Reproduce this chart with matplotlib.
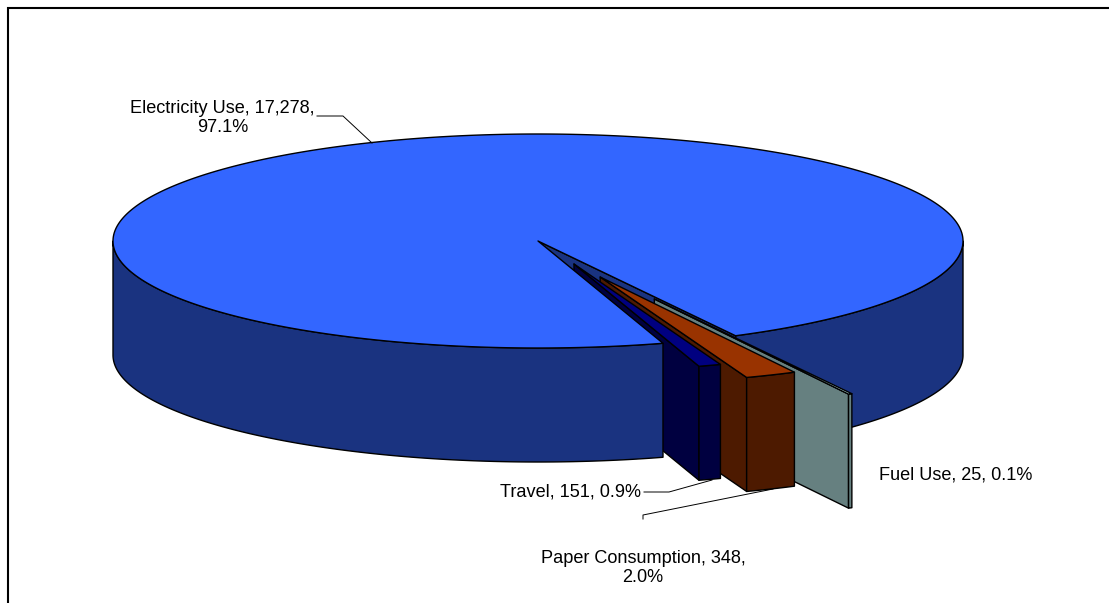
import numpy as np
import matplotlib
matplotlib.use("Agg")
import matplotlib.pyplot as plt
from matplotlib.patches import Polygon

plt.rcParams['font.family'] = ['Liberation Sans', 'DejaVu Sans']

# Carbon footprint by source, in the order the slices run clockwise around the pie
categories = ["Fuel Use", "Paper Consumption", "Travel", "Electricity Use"]
values = [25, 348, 151, 17278]
percent_labels = ["0.1%", "2.0%", "0.9%", "97.1%"]

top_colors = ["#CCFFFF", "#993300", "#000080", "#3366FF"]
side_colors = ["#668080", "#4D1A00", "#000040", "#1A3380"]
explode = [0.607, 0.367, 0.231]
explode_dir = [63.2, 66.5, 68.5]

CX, CY, RX, RY, DEPTH = 538.0, 241.0, 425.0, 107.0, 114.0
START_DEG = 62.3
EDGE = dict(edgecolor="black", linewidth=1.0, joinstyle="round")

fig = plt.figure(figsize=(11.09, 6.03), dpi=100)
ax = fig.add_axes([0, 0, 1, 1])
ax.set_xlim(0, 1109)
ax.set_ylim(603, 0)
ax.axis("off")

# Chart area frame: only the top and left edges fall inside the canvas
ax.plot([8, 8, 1109], [603, 8, 8], color="black", linewidth=1.5,
        solid_joinstyle="miter", solid_capstyle="butt", zorder=0)


def rim(apex, a0, a1, n=200):
    t = np.radians(np.linspace(a0, a1, n))
    return np.column_stack([apex[0] + RX * np.cos(t), apex[1] + RY * np.sin(t)])


def drop(pts):
    return pts + np.array([0.0, DEPTH])


def add(pts, color, z):
    ax.add_patch(Polygon(pts, closed=True, facecolor=color, zorder=z, **EDGE))


# Slice angles follow from the values
sweeps = 360.0 * np.array(values, dtype=float) / sum(values)
ends = START_DEG + np.cumsum(sweeps)
starts = ends - sweeps

el0, el1 = starts[3], ends[3]
centre = np.array([CX, CY])

# Back part of the big slice: rim wall from 0 deg to the gap, then its cut face
z = 1
right_wall = rim(centre, 0, el1 - 360)
add(np.vstack([right_wall, drop(right_wall)[::-1]]), side_colors[3], z)
z += 1
cut_edge = np.vstack([centre, rim(centre, el1 - 360, el1 - 360, 1)])
add(np.vstack([cut_edge, drop(cut_edge)[::-1]]), side_colors[3], z)
z += 1

# Exploded slices, farthest first
for i in range(3):
    d = np.radians(explode_dir[i])
    apex = centre + explode[i] * np.array([RX * np.cos(d), RY * np.sin(d)])
    arc = rim(apex, starts[i], ends[i], 12)
    far_edge = np.vstack([apex, arc[-1]])
    add(np.vstack([far_edge, drop(far_edge)[::-1]]), side_colors[i], z)
    add(np.vstack([arc, drop(arc)[::-1]]), side_colors[i], z + 1)
    add(np.vstack([apex, arc]), top_colors[i], z + 2)
    z += 3

# Front rim wall and top of the big slice
front_wall = rim(centre, el0, 180)
add(np.vstack([front_wall, drop(front_wall)[::-1]]), side_colors[3], z)
top_rim = rim(centre, el0, el1, 720)
add(np.vstack([centre, top_rim]), top_colors[3], z + 1)
z += 2

# Leader lines
leaders = {
    "Electricity Use": ([317, 343, 372], [116, 116, 143]),
    "Travel": ([644, 669, 712], [492, 492, 480]),
    "Paper Consumption": ([643, 643, 773], [519, 515, 489]),
}
for xs, ys in leaders.values():
    ax.plot(xs, ys, color="black", linewidth=0.7, zorder=z)


# Data labels: category, value, share
def label(i, template, x, y):
    text = template.format(c=categories[i], v=f"{values[i]:,}", p=percent_labels[i])
    ax.text(x, y, text, ha="center", va="center", fontsize=13.1, color="black",
            linespacing=1.22, zorder=z + 1)


label(3, "{c}, {v},\n{p}", 222.5, 118)
label(2, "{c}, {v}, {p}", 570.5, 492)
label(0, "{c}, {v}, {p}", 956, 475)
label(1, "{c}, {v},\n{p}", 643, 568)

fig.savefig("out.png", dpi=100)
